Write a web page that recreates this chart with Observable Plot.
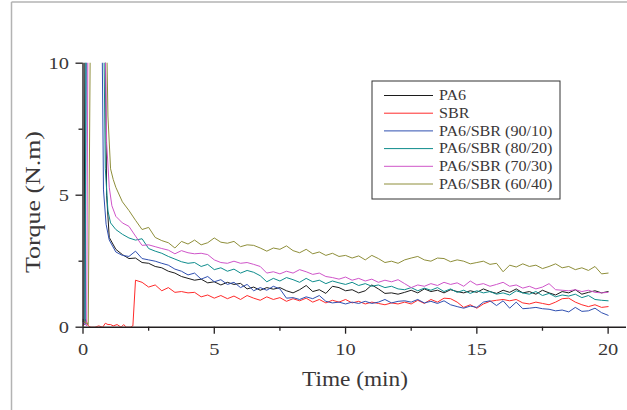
<!DOCTYPE html>
<html>
<head>
<meta charset="utf-8">
<script src="https://cdn.jsdelivr.net/npm/d3@7"></script>
<script src="https://cdn.jsdelivr.net/npm/@observablehq/plot@0.6"></script>
<style>
  html, body { margin: 0; padding: 0; background: #fff; }
  #chart { position: relative; width: 627px; height: 410px; }
</style>
</head>
<body>
<div id="chart"></div>
<script>
// ---- data ----
const seriesNames = ["PA6", "SBR", "PA6/SBR (90/10)", "PA6/SBR (80/20)", "PA6/SBR (70/30)", "PA6/SBR (60/40)"];
const seriesColors = ["#1c1c1c", "#ff2b2b", "#2f4fb0", "#0e8c8c", "#cf55c9", "#8e8e3a"];

const xTicksMajor = [0, 5, 10, 15, 20];
const xTicksMinor = [2.5, 7.5, 12.5, 17.5];
const yTicksMajor = [0, 5, 10];
const yTicksMinor = [2.5, 7.5];

// common sampling times of the decay part (min)
const tailTime = [1.25,1.5,1.75,2,2.25,2.5,2.75,3,3.25,3.5,3.75,4,4.25,4.5,4.75,5,5.25,5.5,5.75,6,6.25,6.5,6.75,7,7.25,7.5,7.75,8,8.25,8.5,8.75,9,9.25,9.5,9.75,10,10.25,10.5,10.75,11,11.25,11.5,11.75,12,12.25,12.5,12.75,13,13.25,13.5,13.75,14,14.25,14.5,14.75,15,15.25,15.5,15.75,16,16.25,16.5,16.75,17,17.25,17.5,17.75,18,18.25,18.5,18.75,19,19.25,19.5,19.75,20];

// loading peak (start of each run)
const headPA6T = [0, 0.04, 0.08, 0.82, 0.9, 1.0];
const headPA6V = [0.3, 0.1, 14, 14, 5.0, 3.4];
const headSBRT = [0, 0.1, 0.2, 0.3, 0.45, 0.6, 0.75, 0.85, 0.95, 1.05, 1.15, 1.3, 1.45, 1.55, 1.65, 1.8, 1.9];
const headSBRV = [0.05, 0.3, 0.05, 0, 0, 0.05, 0, 0.15, 0.1, 0.1, 0.05, 0.1, 0, 0.1, 0, 0, 0.05];
const head9010T = [0, 0.08, 0.14, 0.7, 0.78, 0.88, 1.0];
const head9010V = [0.2, 0.1, 14, 14, 5.2, 3.9, 3.3];
const head8020T = [0, 0.08, 0.12, 0.76, 0.85, 0.95, 1.05];
const head8020V = [0.2, 0.1, 14, 14, 6, 4.4, 3.95];
const head7030T = [0, 0.14, 0.2, 0.8, 0.9, 1.0, 1.1];
const head7030V = [0.2, 0.05, 14, 14, 7, 5.3, 4.6];
const head6040T = [0, 0.2, 0.3, 0.85, 0.95, 1.05, 1.15];
const head6040V = [0.25, 0.1, 14, 14, 8, 6.0, 5.6];

// torque (N.m) at tailTime
const tailPA6 = [2.95,2.75,2.6,2.62,2.45,2.42,2.3,2.25,2.12,2.05,1.92,1.85,1.78,1.82,1.68,1.72,1.6,1.7,1.62,1.66,1.45,1.52,1.4,1.5,1.44,1.5,1.38,1.3,1.42,1.58,1.35,1.42,1.28,1.55,1.5,1.38,1.42,1.3,1.38,1.6,1.45,1.28,1.3,1.25,1.32,1.4,1.3,1.45,1.35,1.4,1.3,1.42,1.35,1.3,1.38,1.32,1.45,1.35,1.28,1.4,1.32,1.45,1.3,1.35,1.25,1.4,1.3,1.22,1.35,1.3,1.42,1.25,1.32,1.38,1.3,1.35];
const tailSBR = [null,null,null,1.78,1.7,1.52,1.6,1.38,1.5,1.32,1.35,1.3,1.32,1.15,1.22,1.1,1.2,1.08,1.18,1.05,1.2,1.1,1.02,1.15,1.05,1.12,0.98,1.08,1.0,1.1,0.95,1.05,0.92,1.02,0.95,1.05,0.92,0.98,0.88,0.95,0.9,0.85,0.92,0.88,0.95,0.88,1.02,0.9,1.05,0.95,1.1,1.08,0.95,0.75,0.85,0.72,0.88,0.98,1.02,1.05,1.0,1.05,0.92,0.88,0.95,0.9,0.85,0.95,1.08,1.1,0.95,0.85,0.78,0.85,0.75,0.78];
const tail9010 = [2.85,2.72,2.68,2.88,2.6,2.55,2.5,2.42,2.35,2.2,2.12,1.98,2.05,1.82,1.92,1.72,1.8,1.62,1.7,1.5,1.62,1.38,1.5,1.4,1.55,1.45,1.1,1.12,1.05,1.15,1.08,1.2,0.98,0.92,0.95,0.88,0.95,0.9,0.98,0.9,0.95,1.05,0.92,0.98,1.0,0.95,1.05,0.92,0.98,0.9,1.0,0.85,0.78,0.72,0.8,0.75,0.95,1.0,0.82,1.0,0.72,0.95,0.7,0.72,0.75,0.7,0.68,0.62,0.65,0.58,0.75,0.6,0.62,0.72,0.55,0.45];
const tail8020 = [3.7,3.52,3.38,3.3,3.35,2.98,2.88,2.8,2.68,2.58,2.48,2.42,2.45,2.3,2.38,2.18,2.25,2.12,2.2,2.05,2.15,2.08,1.95,1.72,1.85,1.75,1.88,1.8,1.7,1.85,1.72,1.78,1.65,1.75,1.68,1.62,1.7,1.58,1.65,1.55,1.6,1.5,1.55,1.45,1.42,1.5,1.38,1.48,1.4,1.5,1.35,1.45,1.32,1.4,1.28,1.38,1.3,1.35,1.25,1.3,1.22,1.38,1.3,1.25,1.35,1.2,1.28,1.15,1.22,1.18,1.25,1.12,1.2,1.05,1.02,1.0];
const tail7030 = [4.2,3.95,3.82,3.45,3.1,3.12,3.05,2.98,2.92,2.78,2.9,2.82,2.78,2.8,2.75,2.55,2.45,2.42,2.5,2.42,2.45,2.38,2.3,2.05,2.1,2.02,2.12,2.05,2.18,2.1,2.0,2.05,1.92,1.88,1.82,1.9,1.78,1.85,1.75,1.82,1.7,1.78,1.72,1.8,1.65,1.5,1.6,1.55,1.65,1.58,1.7,1.62,1.68,1.55,1.75,1.6,1.65,1.55,1.62,1.7,1.55,1.6,1.48,1.55,1.45,1.52,1.65,1.42,1.4,1.38,1.42,1.35,1.4,1.32,1.3,1.32];
const tail6040 = [5.3,4.75,4.42,4.05,3.7,3.78,3.4,3.28,3.2,3.0,3.25,3.15,3.3,3.12,3.2,3.38,3.22,3.18,3.25,3.05,3.12,3.1,3.0,2.88,3.0,2.95,3.08,2.9,2.82,2.95,2.78,2.85,2.72,2.8,2.68,2.72,2.62,2.7,2.55,2.72,2.6,2.45,2.5,2.42,2.55,2.62,2.68,2.55,2.5,2.62,2.6,2.48,2.55,2.5,2.4,2.45,2.5,2.38,2.42,2.1,2.35,2.28,2.4,2.3,2.35,2.22,2.3,2.4,2.25,2.3,2.18,2.25,2.15,2.3,2.02,2.05];

// ---- table ----
const series = [
  [seriesNames[0], headPA6T, headPA6V, tailPA6],
  [seriesNames[1], headSBRT, headSBRV, tailSBR],
  [seriesNames[2], head9010T, head9010V, tail9010],
  [seriesNames[3], head8020T, head8020V, tail8020],
  [seriesNames[4], head7030T, head7030V, tail7030],
  [seriesNames[5], head6040T, head6040V, tail6040]
];
const rows = [];
for (const [name, ht, hv, tv] of series) {
  ht.forEach((t, i) => rows.push({s: name, t, v: hv[i]}));
  tailTime.forEach((t, i) => { if (tv[i] != null) rows.push({s: name, t, v: tv[i]}); });
}

const font = "'Liberation Serif', 'Times New Roman', serif";
const ink = "#231f20";
const textInk = "#3a3738";

const plot = Plot.plot({
  width: 627,
  height: 410,
  marginLeft: 82.5,
  marginRight: 1,
  marginTop: 62.7,
  marginBottom: 83.3,
  style: {fontFamily: font, background: "transparent", color: ink, overflow: "visible"},
  x: {domain: [0, 20.7]},
  y: {domain: [0, 10]},
  color: {domain: seriesNames, range: seriesColors},
  marks: [
    Plot.line(rows, {x: "t", y: "v", z: "s", stroke: "s", strokeWidth: 1, clip: true}),
    Plot.ruleY([0], {stroke: ink, strokeWidth: 1.4}),
    Plot.ruleX([0], {y1: 0, y2: 10, stroke: ink, strokeWidth: 1.4}),
    Plot.axisX({ticks: xTicksMajor, tickSize: 7, tickPadding: 8, fontSize: 17.5, tickFormat: d => String(d), label: null, stroke: ink, strokeWidth: 1.3, fill: textInk}),
    Plot.axisX({ticks: xTicksMinor, tickSize: 4, tickFormat: () => "", label: null, stroke: ink, strokeWidth: 1.3}),
    Plot.axisY({ticks: yTicksMajor, tickSize: 7, tickPadding: 7, fontSize: 17.5, tickFormat: d => String(d), label: null, stroke: ink, strokeWidth: 1.3, fill: textInk}),
    Plot.axisY({ticks: yTicksMinor, tickSize: 4, tickFormat: () => "", label: null, stroke: ink, strokeWidth: 1.3})
  ]
});

document.getElementById("chart").appendChild(plot);
const svg = d3.select(plot);

// the original lettering is horizontally wider than its height suggests
plot.querySelectorAll("text").forEach(t => {
  const L = t.getComputedTextLength();
  if (L > 0) {
    t.setAttribute("textLength", (L * 1.17).toFixed(2));
    t.setAttribute("lengthAdjust", "spacingAndGlyphs");
  }
});

// cropped-figure border (top and left)
svg.append("line").attr("x1", 11.5).attr("y1", 2).attr("x2", 627).attr("y2", 2)
  .attr("stroke", "#b3b3b3").attr("stroke-width", 1.5);
svg.append("line").attr("x1", 11.5).attr("y1", 2).attr("x2", 11.5).attr("y2", 410)
  .attr("stroke", "#b3b3b3").attr("stroke-width", 1.5);

// axis titles
svg.append("text").attr("x", 355).attr("y", 386).attr("text-anchor", "middle")
  .attr("font-family", font).attr("font-size", 20).attr("fill", textInk)
  .attr("textLength", 106).attr("lengthAdjust", "spacingAndGlyphs").text("Time (min)");
svg.append("text").attr("transform", "translate(40,202) rotate(-90)").attr("text-anchor", "middle")
  .attr("font-family", font).attr("font-size", 20).attr("fill", textInk)
  .attr("textLength", 142).attr("lengthAdjust", "spacingAndGlyphs").text("Torque (N.m)");

// legend
const lg = svg.append("g");
lg.append("rect").attr("x", 372).attr("y", 81).attr("width", 188).attr("height", 118)
  .attr("fill", "#fff").attr("stroke", "#333").attr("stroke-width", 1);
seriesNames.forEach((name, i) => {
  const y = 95.5 + i * 17.7;
  lg.append("line").attr("x1", 384).attr("x2", 433).attr("y1", y).attr("y2", y)
    .attr("stroke", seriesColors[i]).attr("stroke-width", 1);
  const t = lg.append("text").attr("x", 439).attr("y", y + 4.8).attr("text-anchor", "start")
    .attr("font-family", font).attr("font-size", 14).attr("fill", textInk).text(name);
  const node = t.node();
  node.setAttribute("textLength", (node.getComputedTextLength() * 1.15).toFixed(2));
  node.setAttribute("lengthAdjust", "spacingAndGlyphs");
});
</script>
</body>
</html>
